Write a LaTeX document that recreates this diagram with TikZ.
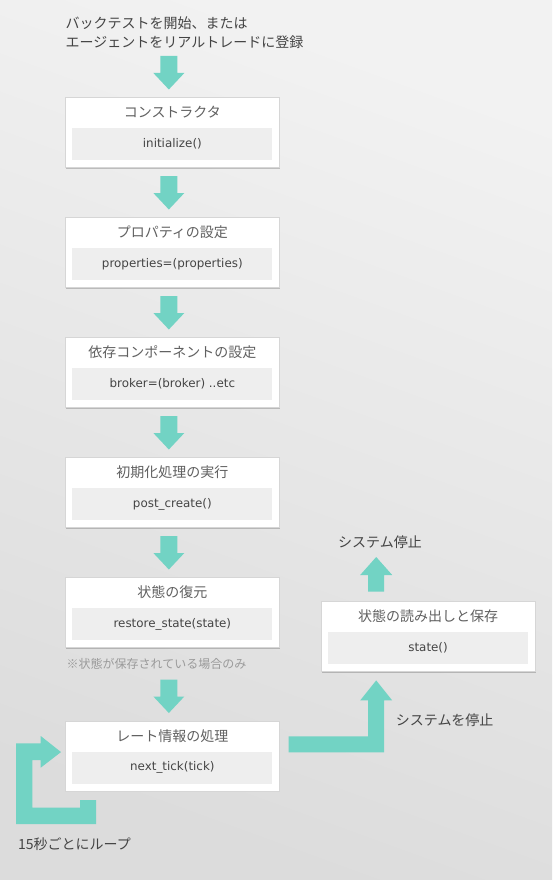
\documentclass[tikz,border=0pt]{standalone}
\usepackage{fontspec}
\setmainfont{DejaVu Sans}
\newfontfamily\jp{Noto Sans CJK JP}
\usetikzlibrary{calc,shadows}
\definecolor{flow}{HTML}{72D3C4}
\definecolor{bgtop}{HTML}{F2F2F2}
\definecolor{bgbot}{HTML}{DCDCDC}
\definecolor{inner}{HTML}{EEEEEE}
\definecolor{txt}{HTML}{444444}
\definecolor{notec}{HTML}{9A9A9A}
\tikzset{
  card/.style={draw=black!16, fill=white, line width=0.7pt, minimum width=214pt, minimum height=70pt, inner sep=0pt,
    drop shadow={shadow xshift=1pt, shadow yshift=-1.5pt, opacity=0.2, fill=black}},
  title/.style={font=\jp\fontsize{14}{16}\selectfont, text=txt!85, inner sep=0pt},
  code/.style={fill=inner, minimum width=200pt, minimum height=32pt, inner sep=0pt, text=txt, font=\fontsize{11.9}{14}\selectfont},
  label/.style={font=\jp\fontsize{14}{19}\selectfont, text=txt, inner sep=0pt},
  note/.style={font=\jp\fontsize{12}{14}\selectfont, text=notec, inner sep=0pt},
  arrowfill/.style={fill=flow, draw=none}
}
\newcommand{\flowdown}[1]{%
  \fill[arrowfill] ($(#1.north)+(-12,-41)$) -- ($(#1.north)+(5,-41)$) -- ($(#1.north)+(5,-24)$) -- ($(#1.north)+(12,-24)$)
    -- ($(#1.north)+(-3.5,-7.5)$) -- ($(#1.north)+(-19,-24)$) -- ($(#1.north)+(-12,-24)$) -- cycle;}
\begin{document}
\begin{tikzpicture}[x=1pt,y=-1pt]
\useasboundingbox (0,0) rectangle (552,880);
\shade[top color=bgtop, bottom color=bgbot, shading angle=-20] (0,0) rectangle (552,880);

\node[label, anchor=base west, align=left] (start) at (65.5,47.6) {バックテストを開始、または\\エージェントをリアルトレードに登録};

% boxes
\node[card, anchor=north west] (b1) at (65,97) {};
\node[title] (t1) at ($(b1.north)+(0,15.5)$) {コンストラクタ};
\node[code] (c1) at ($(b1.north)+(0,47)$) {initialize()};

\node[card, anchor=north west] (b2) at (65,217) {};
\node[title] (t2) at ($(b2.north)+(0,15.5)$) {プロパティの設定};
\node[code] (c2) at ($(b2.north)+(0,47)$) {properties=(properties)};

\node[card, anchor=north west] (b3) at (65,337) {};
\node[title] (t3) at ($(b3.north)+(0,15.5)$) {依存コンポーネントの設定};
\node[code] (c3) at ($(b3.north)+(0,47)$) {broker=(broker) ..etc};

\node[card, anchor=north west] (b4) at (65,457) {};
\node[title] (t4) at ($(b4.north)+(0,15.5)$) {初期化処理の実行};
\node[code] (c4) at ($(b4.north)+(0,47)$) {post\_create()};

\node[card, anchor=north west] (b5) at (65,577) {};
\node[title] (t5) at ($(b5.north)+(0,15.5)$) {状態の復元};
\node[code] (c5) at ($(b5.north)+(0,47)$) {restore\_state(state)};

\node[note, anchor=west] (n5) at (66.5,664) {※状態が保存されている場合のみ};

\node[card, anchor=north west] (b6) at (65,720.5) {};
\node[title] (t6) at ($(b6.north)+(0,15.5)$) {レート情報の処理};
\node[code] (c6) at ($(b6.north)+(0,47)$) {next\_tick(tick)};

\node[card, anchor=north west] (r) at (320.7,600.7) {};
\node[title] (tr) at ($(r.north)+(0,15.5)$) {状態の読み出しと保存};
\node[code] (cr) at ($(r.north)+(0,47.3)$) {state()};

% down arrows
\flowdown{b1}
\flowdown{b2}
\flowdown{b3}
\flowdown{b4}
\flowdown{b5}
\flowdown{b6}

% stop label and arrow above right box
\node[label] (stop) at (380,542.7) {システム停止};
\coordinate (ut) at ($(r.north)+(-51.85,-43.7)$);
\fill[arrowfill] (ut) -- ($(ut)+(16,18)$) -- ($(ut)+(8,18)$) -- ($(r.north)+(-43.85,-9)$) -- ($(r.north)+(-59.85,-9)$) -- ($(ut)+(-8,18)$) -- ($(ut)+(-16,18)$) -- cycle;

% L arrow from b6 to r
\coordinate (lt) at ($(r.south)+(-51.85,9)$);
\coordinate (ls) at ($(b6.east)+(9,0)$);
\fill[arrowfill] (lt) -- ($(lt)+(16,20)$) -- ($(lt)+(8,20)$) -- ($(lt)+(8,72)$) -- ($(ls)+(0,-3.5)$) -- ($(ls)+(0,-19.5)$) -- ($(lt)+(-8,56)$) -- ($(lt)+(-8,20)$) -- ($(lt)+(-16,20)$) -- cycle;
\node[label, anchor=west] (stopsys) at (395.7,720) {システムを停止};

% loop arrow into b6
\coordinate (lp) at ($(b6.west)+(-4,-3.8)$);
\fill[arrowfill] (16,743.3) -- (40.7,743.3) -- (40.7,736) -- (lp) -- (40.7,767.7) -- (40.7,760) -- (32.3,760) -- (32.3,807.7) -- (80,807.7) -- (80,800) -- (96,800) -- (96,824) -- (16,824) -- cycle;
\node[label, anchor=west] (loop) at (18,844) {15秒ごとにループ};
\end{tikzpicture}
\end{document}
